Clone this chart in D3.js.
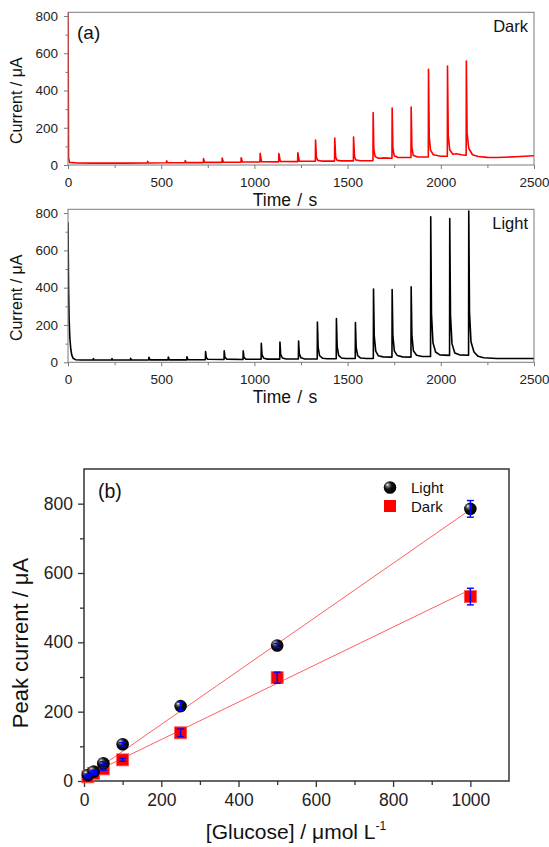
<!DOCTYPE html>
<html><head><meta charset="utf-8">
<script src="https://cdn.jsdelivr.net/npm/d3@7"></script>
<style>body{margin:0;background:#fff}svg{display:block;font-family:Arial,"Liberation Sans",sans-serif}</style>
</head><body><svg id="c" width="549" height="847"></svg>
<script>
// ---- Data ----
const timeTicks = [0, 500, 1000, 1500, 2000, 2500];
const currentTicks = [0, 200, 400, 600, 800];
const darkTrace = [[0,830],[3,40],[8,14],[50,11],[130,10],[200,10],[300,10],[426,11],[427,20],[432,11],[528,12],[529,22],[534,12],[628,12],[629,24],[634,13],[726,13],[727,34],[733,14],[826,14],[827,37],[834,15],[928,15],[929,39],[936,16],[1030,16],[1031,63],[1038,18],[1130,17],[1131,62],[1139,19],[1232,18],[1233,66],[1241,20],[1327,20],[1328,134],[1333,40],[1340,25],[1360,21],[1430,21],[1431,145],[1436,42],[1444,25],[1465,22],[1531,22],[1532,150],[1537,45],[1545,27],[1570,23],[1636,23],[1637,281],[1641,80],[1648,45],[1665,36],[1690,38],[1738,36],[1739,306],[1743,90],[1750,50],[1770,40],[1840,40],[1841,311],[1845,95],[1852,52],[1875,43],[1933,43],[1934,514],[1938,150],[1945,80],[1960,55],[2000,47],[2035,47],[2036,531],[2040,160],[2048,80],[2065,58],[2085,60],[2110,55],[2136,52],[2137,558],[2141,170],[2150,90],[2170,55],[2200,46],[2250,41],[2300,40],[2400,44],[2500,50]];
const lightTrace = [[0,750],[3,400],[6,230],[10,130],[15,70],[20,40],[27,22],[40,14],[70,12],[135,12],[136,20],[140,12],[235,12],[236,20],[240,12],[335,12],[336,21],[340,12],[433,12],[434,27],[440,13],[537,13],[538,28],[544,13],[637,13],[638,30],[644,14],[737,14],[738,57],[742,25],[750,16],[837,15],[838,61],[842,26],[852,17],[939,15],[940,61],[944,26],[954,17],[1036,16],[1037,102],[1041,40],[1050,22],[1070,17],[1136,17],[1137,109],[1141,42],[1150,23],[1170,18],[1236,18],[1237,114],[1241,45],[1250,24],[1270,18],[1337,18],[1338,216],[1342,80],[1350,35],[1365,22],[1390,19],[1439,19],[1440,234],[1444,85],[1452,37],[1467,23],[1490,20],[1541,20],[1542,213],[1546,80],[1554,36],[1570,23],[1600,20],[1638,20],[1639,392],[1643,140],[1651,60],[1665,35],[1690,29],[1738,28],[1739,390],[1743,140],[1751,60],[1767,36],[1795,29],[1840,28],[1841,404],[1845,145],[1853,62],[1870,38],[1900,31],[1945,31],[1946,780],[1950,260],[1958,105],[1972,55],[1995,40],[2047,37],[2048,770],[2052,255],[2060,100],[2075,50],[2100,40],[2149,38],[2150,811],[2154,270],[2162,110],[2178,55],[2200,32],[2230,24],[2300,20],[2400,20],[2500,20]];

const glucose = [10, 25, 50, 100, 250, 500, 1000];
const lightPeak = [17, 27, 51, 106, 216, 391, 785];
const lightErr = [3, 4, 5, 5, 12, 6, 24];
const darkPeak = [12, 22, 35, 61, 139, 298, 532];
const darkErr = [3, 4, 4, 4, 11, 16, 24];
const lightFit = [[10, 16], [1000, 783]];
const darkFit = [[10, 17], [1000, 552]];
const glucoseTicks = [0, 200, 400, 600, 800, 1000];
const peakTicks = [0, 200, 400, 600, 800];

// ---- Drawing ----
const svg = d3.select("#c");
const defs = svg.append("defs");
const FONT = "Arial, 'Liberation Sans', sans-serif";

function tracePanel(yTop, yBot, trace, color, tag, label, clipId) {
  const x = d3.scaleLinear([0, 2500], [68, 534]);
  const y = d3.scaleLinear([0, 820], [yBot, yTop]);
  defs.append("clipPath").attr("id", clipId).append("rect")
    .attr("x", 68).attr("y", yTop).attr("width", 466).attr("height", yBot - yTop);
  const g = svg.append("g");
  g.append("path").datum(trace)
    .attr("clip-path", `url(#${clipId})`)
    .attr("fill", "none").attr("stroke", color).attr("stroke-width", 1.6)
    .attr("stroke-linejoin", "round")
    .attr("d", d3.line().x(d => x(d[0])).y(d => y(d[1])));
  g.append("rect").attr("x", 68).attr("y", yTop).attr("width", 466).attr("height", yBot - yTop)
    .attr("fill", "none").attr("stroke", "#7a7a7a").attr("stroke-width", 1);
  const ax = g.append("g").attr("transform", `translate(0,${yBot})`)
    .call(d3.axisBottom(x).tickValues(timeTicks).tickFormat(d3.format("d")).tickSize(4).tickSizeOuter(0).tickPadding(8));
  const axm = g.append("g").attr("transform", `translate(0,${yBot})`)
    .call(d3.axisBottom(x).tickValues(d3.range(250, 2500, 500)).tickSize(3).tickFormat("").tickSizeOuter(0));
  const ay = g.append("g").attr("transform", `translate(68,0)`)
    .call(d3.axisLeft(y).tickValues(currentTicks).tickFormat(d3.format("d")).tickSize(4).tickSizeOuter(0).tickPadding(6));
  const aym = g.append("g").attr("transform", `translate(68,0)`)
    .call(d3.axisLeft(y).tickValues([100, 300, 500, 700]).tickSize(2.5).tickFormat("").tickSizeOuter(0));
  [ax, axm, ay, aym].forEach(a => {
    a.select(".domain").remove();
    a.selectAll("line").attr("stroke", "#7a7a7a");
    a.selectAll("text").attr("font-size", 13.5).attr("fill", "#222").attr("font-family", FONT);
  });
  g.append("text").attr("x", 285).attr("y", yBot + 41).attr("text-anchor", "middle")
    .attr("font-size", 17.5).attr("word-spacing", 1.5).attr("fill", "#111").text("Time / s");
  g.append("text").attr("transform", `translate(22,${(yTop + yBot) / 2 + 12}) rotate(-90)`)
    .attr("text-anchor", "middle").attr("font-size", 16).attr("fill", "#111").text("Current / μA");
  g.append("text").attr("x", 528).attr("y", yTop + 20).attr("text-anchor", "end")
    .attr("font-size", 16.5).attr("fill", "#111").text(label);
  if (tag) g.append("text").attr("x", 77).attr("y", yTop + 27)
    .attr("font-size", 19).attr("fill", "#111").text(tag);
}
tracePanel(12.3, 165, darkTrace, "#ff0000", "(a)", "Dark", "clipA");
tracePanel(209.3, 362.3, lightTrace, "#000000", null, "Light", "clipB");

// ---- Panel (b) ----
const xB = d3.scaleLinear([0, 1100], [84, 509]);
const yB = d3.scaleLinear([0, 900], [781, 469]);
const gb = svg.append("g");

const grad = defs.append("radialGradient").attr("id", "ball")
  .attr("cx", "40%").attr("cy", "40%").attr("r", "60%").attr("fx", "30%").attr("fy", "28%");
grad.append("stop").attr("offset", "0%").attr("stop-color", "#ffffff");
grad.append("stop").attr("offset", "20%").attr("stop-color", "#7a7a7a");
grad.append("stop").attr("offset", "50%").attr("stop-color", "#101010");
grad.append("stop").attr("offset", "100%").attr("stop-color", "#000000");

gb.append("rect").attr("x", 84).attr("y", 469).attr("width", 425).attr("height", 312)
  .attr("fill", "none").attr("stroke", "#333").attr("stroke-width", 1.5);

const axB = gb.append("g").attr("transform", "translate(0,781)")
  .call(d3.axisBottom(xB).tickValues(glucoseTicks).tickFormat(d3.format("d")).tickSize(6).tickSizeOuter(0).tickPadding(7));
const axBm = gb.append("g").attr("transform", "translate(0,781)")
  .call(d3.axisBottom(xB).tickValues([100, 300, 500, 700, 900]).tickSize(4).tickFormat("").tickSizeOuter(0));
const ayB = gb.append("g").attr("transform", "translate(84,0)")
  .call(d3.axisLeft(yB).tickValues(peakTicks).tickFormat(d3.format("d")).tickSize(6).tickSizeOuter(0).tickPadding(5));
const ayBm = gb.append("g").attr("transform", "translate(84,0)")
  .call(d3.axisLeft(yB).tickValues([100, 300, 500, 700]).tickSize(4).tickFormat("").tickSizeOuter(0));
[axB, axBm, ayB, ayBm].forEach(a => {
  a.select(".domain").remove();
  a.selectAll("line").attr("stroke", "#333").attr("stroke-width", 1.3);
  a.selectAll("text").attr("font-size", 17.5).attr("fill", "#222").attr("font-family", FONT);
});

const fitLine = d3.line().x(d => xB(d[0])).y(d => yB(d[1]));
[lightFit, darkFit].forEach(f => gb.append("path").datum(f)
  .attr("fill", "none").attr("stroke", "#ff6060").attr("stroke-width", 1).attr("d", fitLine));

const light = glucose.map((g, i) => ({x: g, y: lightPeak[i], e: lightErr[i]}));
const dark = glucose.map((g, i) => ({x: g, y: darkPeak[i], e: darkErr[i]}));

gb.selectAll(".sq").data(dark).join("rect").attr("class", "sq")
  .attr("x", d => xB(d.x) - 6).attr("y", d => yB(d.y) - 6).attr("width", 12).attr("height", 12)
  .attr("fill", "#ff0000").attr("stroke", "#ff5555").attr("stroke-width", 0.8);
gb.selectAll(".ball").data(light).join("circle").attr("class", "ball")
  .attr("cx", d => xB(d.x)).attr("cy", d => yB(d.y)).attr("r", 6.3).attr("fill", "url(#ball)");

function errBars(data) {
  const eg = gb.append("g").attr("stroke", "#0000ff").attr("stroke-width", 1.4);
  data.forEach(d => {
    const cx = xB(d.x), y1 = yB(d.y - d.e), y2 = yB(d.y + d.e);
    eg.append("line").attr("x1", cx).attr("x2", cx).attr("y1", y1).attr("y2", y2);
    eg.append("line").attr("x1", cx - 3.5).attr("x2", cx + 3.5).attr("y1", y1).attr("y2", y1);
    eg.append("line").attr("x1", cx - 3.5).attr("x2", cx + 3.5).attr("y1", y2).attr("y2", y2);
  });
}
errBars(dark);
errBars(light);

// legend
gb.append("circle").attr("cx", 390).attr("cy", 487.5).attr("r", 6.3).attr("fill", "url(#ball)");
gb.append("rect").attr("x", 384).attr("y", 500).attr("width", 12).attr("height", 12).attr("fill", "#ff0000");
gb.append("text").attr("x", 411).attr("y", 493).attr("font-size", 15).attr("fill", "#111").text("Light");
gb.append("text").attr("x", 411).attr("y", 511.5).attr("font-size", 15).attr("fill", "#111").text("Dark");
gb.append("text").attr("x", 98).attr("y", 497.5).attr("font-size", 19.5).attr("fill", "#111").text("(b)");

// axis titles
gb.append("text").attr("transform", "translate(28,643) rotate(-90)").attr("text-anchor", "middle")
  .attr("font-size", 22).attr("fill", "#111").text("Peak current / μA");
const xt = gb.append("text").attr("x", 296).attr("y", 839).attr("text-anchor", "middle")
  .attr("font-size", 21).attr("fill", "#111");
xt.append("tspan").text("[Glucose] / μmol L");
xt.append("tspan").attr("dy", -9).attr("font-size", 12).text("-1");
</script></body></html>
